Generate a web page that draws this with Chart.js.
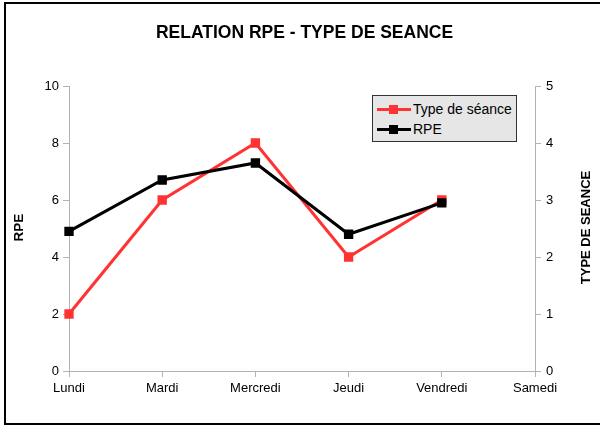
<!DOCTYPE html>
<html>
<head>
<meta charset="utf-8">
<script src="https://cdn.jsdelivr.net/npm/chart.js@4.4.1/dist/chart.umd.min.js"></script>
<style>
  html, body { margin: 0; padding: 0; background: #fff; overflow: hidden; }
  #wrap { position: relative; width: 600px; height: 425px; }
  #frame { position: absolute; left: 4px; top: 2px; width: 700px; height: 419px; border: 2px solid #000; pointer-events: none; }
  #legend { position: absolute; left: 372px; top: 95px; width: 145px; height: 47px; box-sizing: border-box;
            border: 1px solid #333; background: #e6e6e6; font-family: "Liberation Sans", Arial, sans-serif;
            font-size: 14px; color: #000; padding-top: 3px; }
  .item { position: relative; height: 20px; line-height: 20px; padding-left: 40px; }
  .ln { position: absolute; left: 4px; top: 9px; width: 34px; height: 3px; }
  .mk { position: absolute; left: 16px; top: 6px; width: 9px; height: 9px; }
</style>
</head>
<body>
<div id="wrap">
  <canvas id="c" width="600" height="425"></canvas>
  <div id="frame"></div>
  <div id="legend"></div>
</div>
<script>
const categories = ["Lundi", "Mardi", "Mercredi", "Jeudi", "Vendredi", "Samedi"];
const typeSeance = [1, 3, 4, 2, 3, null];
const rpe = [4.9, 6.7, 7.3, 4.8, 5.9, null];
const rpeTicks = [0, 2, 4, 6, 8, 10];
const typeTicks = [0, 1, 2, 3, 4, 5];
const titleText = "RELATION RPE - TYPE DE SEANCE";
const leftTitle = "RPE";
const rightTitle = "TYPE DE SEANCE";
const seriesNames = ["Type de séance", "RPE"];
const seriesColors = ["#ff3333", "#000000"];

const FONT = '"Liberation Sans", Arial, sans-serif';
const axisCol = '#b3b3b3';

const axisTitles = {
  id: 'axisTitles',
  afterDraw(chart) {
    const ctx = chart.ctx;
    const a = chart.chartArea;
    const cy = (a.top + a.bottom) / 2;
    ctx.save();
    ctx.font = 'bold 13.5px ' + FONT;
    ctx.fillStyle = '#000';
    ctx.textAlign = 'center';
    ctx.textBaseline = 'middle';
    ctx.translate(19, cy - 1);
    ctx.rotate(-Math.PI / 2);
    ctx.fillText(leftTitle, 0, 0);
    ctx.restore();
    ctx.save();
    ctx.font = 'bold 13px ' + FONT;
    ctx.fillStyle = '#000';
    ctx.textAlign = 'center';
    ctx.textBaseline = 'middle';
    ctx.translate(586, cy - 1);
    ctx.rotate(-Math.PI / 2);
    ctx.fillText(rightTitle, 0, 0);
    ctx.restore();
  }
};

const chart = new Chart(document.getElementById('c'), {
  type: 'line',
  data: {
    labels: categories,
    datasets: [
      { label: seriesNames[0], data: typeSeance, yAxisID: 'y1', borderColor: seriesColors[0], backgroundColor: seriesColors[0],
        borderWidth: 3, pointStyle: 'rect', pointRadius: 4.5, pointHoverRadius: 4.5, tension: 0, order: 2 },
      { label: seriesNames[1], data: rpe, yAxisID: 'y', borderColor: seriesColors[1], backgroundColor: seriesColors[1],
        borderWidth: 3, pointStyle: 'rect', pointRadius: 4.5, pointHoverRadius: 4.5, tension: 0, order: 1 }
    ]
  },
  options: {
    responsive: false,
    animation: false,
    layout: { padding: { left: 9, right: 0, top: 0, bottom: 0 } },
    plugins: {
      legend: { display: false },
      tooltip: { enabled: false },
      title: { display: true, text: titleText, color: '#000', font: { family: FONT, size: 17.5, weight: 'bold', lineHeight: 1.2 },
               padding: { top: 22.5, bottom: 42.5 } }
    },
    scales: {
      x: {
        offset: false,
        grid: { display: true, drawOnChartArea: false, drawTicks: true, tickLength: 6, color: axisCol },
        border: { display: true, color: axisCol, width: 1 },
        ticks: { color: '#000', font: { family: FONT, size: 13 }, padding: 4, maxRotation: 0, autoSkip: false },
        afterFit(s) { s.height = 54; }
      },
      y: {
        position: 'left', min: 0, max: 10,
        afterBuildTicks(s) { s.ticks = rpeTicks.map(v => ({ value: v })); },
        grid: { display: true, drawOnChartArea: false, drawTicks: true, tickLength: 6, color: axisCol },
        border: { display: true, color: axisCol, width: 1 },
        ticks: { color: '#000', font: { family: FONT, size: 13 }, padding: 4 },
        afterFit(s) { s.width = 60; }
      },
      y1: {
        position: 'right', min: 0, max: 5,
        afterBuildTicks(s) { s.ticks = typeTicks.map(v => ({ value: v })); },
        grid: { display: true, drawOnChartArea: false, drawTicks: true, tickLength: 6, color: axisCol },
        border: { display: true, color: axisCol, width: 1 },
        ticks: { color: '#000', font: { family: FONT, size: 13 }, padding: 5 },
        afterFit(s) { s.width = 65; }
      }
    }
  },
  plugins: [axisTitles]
});

// HTML legend built from the series
const leg = document.getElementById('legend');
seriesNames.forEach((name, i) => {
  const it = document.createElement('div');
  it.className = 'item';
  const ln = document.createElement('span'); ln.className = 'ln'; ln.style.background = seriesColors[i];
  const mk = document.createElement('span'); mk.className = 'mk'; mk.style.background = seriesColors[i];
  it.appendChild(ln); it.appendChild(mk);
  it.appendChild(document.createTextNode(name));
  leg.appendChild(it);
});
</script>
</body>
</html>
